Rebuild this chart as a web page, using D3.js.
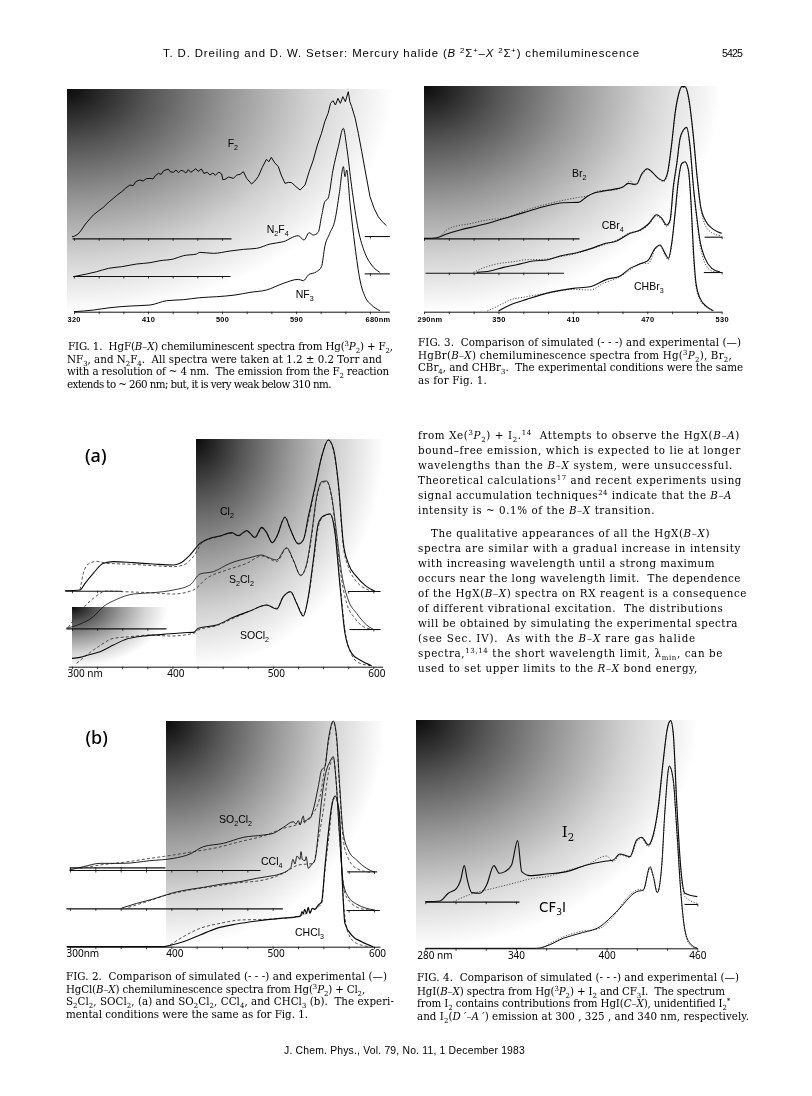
<!DOCTYPE html>
<html><head><meta charset="utf-8">
<script src="https://cdn.jsdelivr.net/npm/d3@7"></script>
<style>html,body{margin:0;background:#fff}svg{display:block;filter:blur(.35px)}text{white-space:pre;fill:#000}</style>
</head><body><svg id="page" width="812" height="1096"></svg>
<script>
// ---- Fig. 1 ----
const fig1Ticks=[320,350,380,410,440,470,500,530,560,590,620,650,680];
const fig1Labels=[320,410,500,590,680];
const F2=[[317.6,225],[321,227],[325,233],[329,245],[333,260],[338,275],[343.5,290],[349,301],[355.7,313],[361,326],[367.8,340],[372,349],[378,360],[383,371],[388,380],[392,378],[395,390],[400,395],[404,392],[408,399],[412.4,400],[416,398],[419,408],[422.6,415],[426,412],[429,423],[434.7,428],[437,420],[440.8,418],[444,425],[447,417],[450,424],[453,422],[456,416],[459,426],[462,418],[465,423],[468,429],[471,421],[475,428],[478,415],[482,418],[485.4,410],[489,416],[492,409],[496,419],[499.6,413],[501,396],[503.6,397],[508,404],[513.8,400],[518,410],[522,412],[526,420],[530,400],[536,383],[540,392],[544,405],[549,433],[554,457],[557,450],[560,463],[564,447],[568.5,435],[572,410],[576.6,385],[581,388],[584.7,387],[590,375],[595,365],[601,380],[606,420],[611,455],[616,500],[621,535],[625,570],[629,595],[632,625],[635,633],[638,620],[641,640],[644,625],[647,645],[650,630],[653.6,660],[655.5,630],[657.7,615],[662,580],[665.8,535],[670,480],[674,425],[680,345],[685,310],[690,285],[695,270],[700,258]];
const N2F4=[[319,105],[335.4,113],[347.6,120],[361.8,130],[378,135],[396,143],[412.4,147],[424.6,153],[440.8,158],[453,168],[469,173],[473,178],[489.5,175],[509.7,182],[526,187],[542,190],[558.4,203],[574.6,210],[592.8,228],[599.7,215],[606,237],[611,230],[617,238],[621,285],[625,330],[629,340],[635,425],[641.5,495],[647.6,550],[651.6,495],[657.7,375],[665.8,245],[674,175],[682,140],[692,118]];
const NF3=[[320,0],[343.5,5],[363.8,12],[388,17],[412.4,20],[432.7,33],[453,36],[473,42],[493.5,45],[515.8,50],[534,58],[554,65],[574.6,85],[592.8,97],[599,93],[605,110],[615,120],[621,135],[625,195],[631,235],[637.4,275],[642.7,355],[647.6,435],[649.6,405],[651.6,425],[655.7,325],[661.8,195],[667.8,95],[674,45],[682,20],[692,3]];
const fig1Rules=[[317.6,511,220],[673,703.5,227],[319,509.7,107],[673,703.5,115],[320,703.5,0]];
// ---- Fig. 3 ----
const fig3Ticks=[290,310,330,350,370,390,410,430,450,470,490,510,530];
const fig3Labels=[290,350,410,470,530];
const Br2=[[290,220],[300.2,222],[308.3,233],[319,245],[332.5,257],[345.9,270],[359.4,285],[372.8,300],[386.2,315],[402.4,327],[414.5,328],[421.2,345],[426.6,355],[433.3,361],[442.7,367],[450.7,375],[454.8,385],[458.8,382],[461.5,383],[465.5,413],[470.1,429],[474.9,415],[479,400],[483,393],[486.2,415],[489.7,505],[492.4,595],[495.1,650],[497.8,675],[500.5,675],[503.2,645],[507.2,525],[509.9,415],[512.6,325],[516.6,275],[523.3,247],[530,235]];
const Br2Sim=[[302.9,225],[308.3,245],[316.3,257],[324.4,262],[340.5,275],[356.7,283],[372.8,305],[391.6,325],[413.1,342],[421.2,347],[431.9,363],[442.7,365],[450.7,375],[456.1,392],[460.2,380],[465.5,409],[470.1,427],[474.9,415],[479,400],[483,390],[486.2,410],[489.7,500],[492.4,590],[495.1,647],[497.8,673],[500.5,673],[503.2,640],[507.2,520],[509.9,415],[512.6,325],[516.6,260],[522,237],[530,227]];
const CBr4=[[332.5,118],[343.2,122],[354,133],[364.7,141],[378.2,152],[388.9,155],[399.7,167],[413.1,177],[425.2,190],[434.6,203],[445.4,212],[456.1,235],[464.2,245],[470.9,263],[477.6,291],[481.7,280],[485.7,260],[488.4,275],[491,375],[493.8,445],[496.4,520],[499.1,545],[501.8,553],[504.5,495],[507.2,375],[509.9,285],[512.6,210],[516.6,160],[522,130],[528.7,119]];
const CBr4Sim=[[329.8,118],[340.5,135],[351.3,145],[362,150],[372.8,156],[386.2,157],[399.7,165],[413.1,175],[425.2,190],[434.6,200],[445.4,215],[456.1,237],[464.2,243],[470.9,260],[477.6,287],[481.7,275],[485.7,255],[488.4,270],[491,365],[493.8,440],[496.4,515],[499.1,542],[501.8,550],[504.5,490],[507.2,370],[509.9,275],[512.6,200],[516.6,145],[522,122],[530,118]];
const CHBr3=[[350,2],[359.4,20],[372.8,37],[391.6,58],[410.4,70],[423.9,75],[437.3,97],[448.1,107],[456.1,130],[465.5,145],[470.9,155],[476.3,190],[480.3,200],[484.3,175],[487,160],[489.7,205],[492.4,295],[495.1,395],[497.8,445],[500.5,450],[503.2,425],[505.3,325],[507.2,185],[509.3,85],[512.6,40],[518,15],[523.3,3]];
const CHBr3Sim=[[341,2],[351.3,20],[359.4,35],[372.8,45],[391.6,57],[410.4,67],[423.9,65],[434.6,85],[448.1,105],[456.1,125],[465.5,145],[470.9,145],[476.3,187],[480.3,197],[484.3,170],[487,155],[489.7,200],[492.4,290],[495.1,390],[497.8,443],[500.5,447],[503.2,420],[505.3,315],[507.2,165],[509.3,75],[512.6,35],[518,13],[523.3,3]];
const fig3Rules=[[290,415,220],[515.8,530,225],[290.8,402.4,117],[515.2,530,119],[290,530,0]];
// ---- Fig. 2a ----
const fig2Ticks=[300,325,350,375,400,425,450,475,500,525,550,575,600];
const fig2Labels=[300,400,500,600];
const Cl2=[[293,228],[308,230],[313,250],[321.2,280],[331.2,310],[341.2,315],[361,312],[381,308],[400.9,305],[407.5,310],[417.5,335],[427.4,370],[437.4,385],[447.4,392],[459,402],[465.6,393],[473.9,408],[482.2,388],[488.9,418],[493.2,405],[499.5,372],[503.8,390],[512.1,448],[517,415],[525.4,368],[530.3,380],[535.3,450],[542,540],[548.6,630],[555.2,680],[560.2,655],[565.2,550],[570.2,370],[575.1,310],[583.4,270],[593.4,240],[601.7,226]];
const Cl2Sim=[[308,230],[311.3,280],[316.3,308],[324.6,316],[334.5,310],[361,307],[381,303],[400.9,300],[410.9,305],[420.8,330],[430.8,375],[444,388],[459,400],[465.6,392],[473.9,406],[482.2,386],[488.9,416],[493.2,404],[499.5,372],[503.8,388],[512.1,450],[517,415],[525.4,370],[530.3,380],[535.3,440],[542,535],[548.6,630],[555.2,680],[560.2,650],[565.2,545],[570.2,360],[575.1,300],[583.4,255],[593.4,232],[601.7,226]];
const S2Cl2=[[294,115],[308,128],[321.2,150],[331.2,180],[344.5,202],[361,218],[381,222],[400.9,230],[417.5,245],[427.4,278],[440.7,285],[457.3,310],[477.2,327],[488.9,335],[493.8,330],[503.8,320],[513.7,357],[520.4,320],[527.7,273],[533.7,310],[538.6,400],[543.6,510],[548.6,555],[553.6,557],[558.6,510],[563.5,400],[568.5,280],[575.1,200],[583.4,160],[593.4,125],[600,112]];
const S2Cl2Sim=[[296.3,118],[308,165],[321.2,205],[334.5,227],[351.1,225],[377.7,222],[400.9,218],[420.8,230],[434.1,265],[454,290],[473.9,310],[488.9,332],[493.8,328],[503.8,315],[513.7,355],[520.4,318],[527.7,275],[533.7,305],[538.6,390],[543.6,505],[548.6,552],[553.6,555],[558.6,505],[563.5,380],[568.5,260],[573.5,190],[581.8,145],[590.1,120],[600,112]];
const SOCl2=[[300,25],[308,28],[316.3,35],[327.9,45],[341.2,65],[354.4,83],[371,92],[390.9,97],[410.9,102],[420.8,103],[425.8,115],[444,125],[460.6,148],[477.2,167],[493.8,185],[503.8,173],[510.4,210],[517.7,225],[523.7,190],[530.3,152],[535.3,210],[540.3,320],[545.3,430],[550.3,452],[556.9,458],[561.9,400],[566.9,240],[571.8,100],[578.5,40],[586.8,20],[598.4,3]];
const SOCl2Sim=[[304.6,10],[314.6,35],[326.2,60],[341.2,85],[357.7,90],[377.7,95],[397.6,92],[420.8,100],[425.8,110],[444,123],[460.6,145],[477.2,167],[493.8,185],[503.8,175],[510.4,210],[517.7,225],[523.7,190],[530.3,157],[535.3,205],[540.3,310],[545.3,420],[550.3,450],[556.9,458],[561.9,405],[566.9,250],[571.8,110],[578.5,35],[586.8,10],[598.4,3]];
const fig2aRules=[[293,349.5,228],[574.5,606.7,227],[294,393.6,115],[575.8,606.7,113],[296.3,609.3,0]];
// ---- Fig. 2b ----
const SO2Cl2=[[299.3,230],[313.2,240],[329.6,250],[352.6,250],[378.9,258],[402,265],[418.4,278],[431.6,300],[451.3,310],[471,328],[490.8,335],[500.6,340],[510.5,358],[520.4,375],[523,368],[525.3,378],[527,365],[530.2,392],[531.5,372],[533.5,380],[537,385],[540,410],[545,480],[548.3,530],[551.6,540],[554.9,620],[559.8,677],[563.1,630],[565.8,500],[569.7,340],[574.6,290],[582.8,260],[592.7,235],[600.9,223]];
const SO2Cl2Sim=[[309.9,235],[329.6,245],[352.6,253],[378.9,265],[402,275],[421.7,285],[444.7,297],[467.7,315],[490.8,332],[510.5,355],[526.9,370],[538.5,395],[546.7,450],[551.6,540],[555.9,630],[559.8,675],[563.1,620],[565.8,490],[569.7,320],[574.6,265],[582.8,235],[596,223]];
const CCl4=[[351,116],[365.8,130],[382.2,143],[402,162],[418.4,172],[431.6,178],[448,187],[467.7,195],[484.2,205],[494,210],[507.2,218],[515.4,230],[518,238],[520,262],[522,248],[524,272],[526.9,262],[528,285],[529.2,262],[531.9,258],[533,270],[535.2,235],[538,245],[541.7,260],[545,340],[548.3,440],[551.6,510],[556.5,555],[559.8,570],[562.5,500],[565.8,340],[569.7,190],[574.6,150],[582.8,128],[592.7,115],[600.9,110]];
const CCl4Sim=[[357.6,118],[375.6,135],[395.4,155],[418.4,170],[444.7,182],[467.7,192],[490.8,200],[510.5,220],[525.3,245],[540,250],[545,320],[550,410],[554.9,520],[559.8,565],[563.1,480],[566.4,310],[571.3,160],[577.9,130],[586.1,115],[596,110]];
const CHCl3=[[296.7,0],[392.1,0],[400.3,5],[411.8,15],[428.3,35],[444.7,55],[464.5,68],[484.2,77],[507.2,85],[525.3,90],[527.5,92],[529,105],[530.2,98],[531.5,112],[533.5,100],[535,118],[536.8,100],[539,115],[541.7,112],[545,125],[548.3,135],[551.6,240],[554.9,340],[558.2,420],[561.5,452],[565.8,400],[568.1,240],[571.3,70],[577.9,35],[587.8,15],[599.3,0]];
const CHCl3Sim=[[398.7,5],[411.8,30],[428.3,55],[448,70],[467.7,80],[490.8,82],[510.5,85],[525.3,92],[540,110],[548.3,130],[551.6,230],[555.9,340],[559.8,445],[563.1,440],[566.4,360],[569.7,140],[574.6,40],[582.8,10],[596,0]];
const fig2bRules=[[299.3,487.5,230],[299.3,393.7,238],[573,602.6,226],[296,509.5,115],[572.3,605.2,110],[296.7,605.9,0]];
// ---- Fig. 4 ----
const fig4Ticks=[280,300,320,340,360,380,400,420,440,460];
const fig4Labels=[280,340,400,460];
const I2=[[280,140],[289.7,142],[295.2,165],[300.7,180],[303.4,205],[305.8,248],[307.8,205],[310.7,167],[316.2,165],[320.6,190],[325.4,248],[329,225],[332.7,230],[337.1,250],[341.1,323],[343.8,230],[349.3,218],[360.3,223],[373.5,230],[386.8,250],[400,262],[404.4,265],[408.8,283],[415.4,275],[419.9,325],[423.2,333],[427.6,310],[429.8,325],[434.2,425],[437.5,565],[440.2,660],[442.4,683],[444.1,645],[446.3,445],[449,245],[451.8,165],[460,155]];
const I2Sim=[[298.5,140],[311.8,165],[325,180],[338.2,195],[351.5,210],[360.3,215],[373.5,233],[386.8,250],[400,277],[404.4,260],[408.8,280],[415.4,273],[419.9,320],[423.2,330],[427.6,305],[429.8,320],[434.2,420],[437.5,560],[440.2,660],[442.4,683],[444.1,640],[446.3,435],[449,235],[451.8,155],[460,135]];
const CF3I=[[280,0],[353.7,0],[360.3,7],[371.3,30],[382.4,45],[395.6,65],[406.6,110],[419.9,170],[424.3,175],[428.7,245],[430.9,215],[433.5,167],[436.4,245],[438.6,415],[441.5,547],[444.1,505],[446.3,365],[449,175],[451.8,55],[455.2,15],[460,0]];
const CF3ISim=[[358.1,3],[369.1,30],[382.4,50],[395.6,60],[404.4,95],[413.2,150],[422.1,177],[424.3,173],[428.7,240],[431.3,210],[433.5,167],[436.4,240],[438.6,410],[441.5,545],[444.1,500],[446.3,360],[449,170],[451.8,50],[455.2,10],[460,0]];
const fig4Rules=[[280,342,140],[451.2,460,133],[280,460,0]];

// ---- drawing ----
const svg=d3.select("#page");
const defs=svg.append("defs");
const grad=defs.append("radialGradient").attr("id","shade").attr("cx",0).attr("cy",0).attr("r",1).attr("fx",0).attr("fy",0);
[[0,"#0a0a0a"],[.25,"#555"],[.5,"#979797"],[.75,"#d2d2d2"],[1,"#fff"]].forEach(s=>grad.append("stop").attr("offset",s[0]).attr("stop-color",s[1]));

const SERIF='"DejaVu Serif"';
function rich(x,y,str,o={}){
  const t=svg.append("text").attr("x",x).attr("y",y)
    .style("font-family",o.font||SERIF).style("font-size",(o.size||10.3)+"px").style("font-weight",o.weight||"normal");
  const re=/\{([_^*])([^}]*)\}/g; let last=0,m,pend=0;
  const add=(s,dy,fs,it)=>{if(!s)return;const ts=t.append("tspan").text(s);
    const d=dy+pend; if(d)ts.attr("dy",d); pend=-dy; if(fs)ts.style("font-size",fs+"px"); if(it)ts.style("font-style","italic");};
  const sz=o.size||10.3;
  while((m=re.exec(str))){add(str.slice(last,m.index),0);
    if(m[1]=="_")add(m[2],sz*.25,sz*.68);else if(m[1]=="^")add(m[2],-sz*.38,sz*.68);else add(m[2],0,0,true);
    last=re.lastIndex;}
  add(str.slice(last),0);
  if(o.end!=null){const w=t.node().getComputedTextLength();const n=t.text().length;
    t.style("letter-spacing",((o.end-x-w)/n)+"px");}
  return t;
}
function panel(rects,nmDom,pxX,yMax,pxY,ticks,labels,rules,series,lab){
  rects.forEach(r=>svg.append("rect").attr("x",r[0]).attr("y",r[1]).attr("width",r[2]).attr("height",r[3]).attr("fill","url(#shade)"));
  const x=d3.scaleLinear().domain(nmDom).range(pxX);
  const y=d3.scaleLinear().domain([0,yMax]).range(pxY);
  rules.forEach(r=>{
    const s=d3.scaleLinear().domain([r[0],r[1]]).range([x(r[0]),x(r[1])]);
    const ax=d3.axisBottom(s).tickValues(ticks.filter(t=>t>=r[0]&&t<=r[1])).tickSize(2.5).tickSizeOuter(0)
      .tickFormat(d=>(r[2]===0&&labels.includes(d))?(d==labels[0]&&lab.firstUnit?d+lab.firstUnit:(d==labels[labels.length-1]&&lab.lastUnit?d+lab.lastUnit:d)):"");
    const g=svg.append("g").attr("transform",`translate(0,${y(r[2])})`).call(ax);
    g.select(".domain").attr("stroke","#111").attr("stroke-width",r[2]===0?1:1.1);
    g.selectAll("line").attr("stroke","#111").attr("stroke-width",.8);
    g.selectAll("text").attr("y",lab.dy).style("font-family",lab.font).style("font-size",lab.size+"px").style("font-weight",lab.weight||"normal")
      .style("letter-spacing",(lab.ls||0)+"px");
    g.selectAll("text").attr("dx",d=>d==labels[0]?lab.firstDx:(lab.dx||0)).attr("text-anchor",d=>{
      if(d==labels[0])return "start"; if(d==labels[labels.length-1]&&lab.lastUnit)return "start"; return "middle";});
    if(lab.lastUnit)g.selectAll("text").filter(d=>d==labels[labels.length-1]).attr("dx",lab.lastDx);
  });
  const lineGen=d3.line().x(d=>x(d[0])).y(d=>y(d[1]));
  series.forEach(s=>{
    lineGen.curve(s.noisy?d3.curveLinear:d3.curveMonotoneX);
    svg.append("path").attr("d",lineGen(s.d)).attr("fill","none")
      .attr("stroke",s.sim?"#333":"#0b0b0b").attr("stroke-width",s.sim?.85:(s.w||1))
      .attr("stroke-dasharray",s.sim==="dot"?"1.2 1.6":(s.sim?"3 2.2":null));
  });
}
const smallSans={font:'"Liberation Sans"',size:7.4,weight:"bold",dy:5.5,ls:.3};
const bigSans={font:'"Noto Sans"',size:10,dy:3.5,dx:3};

panel([[67,89,326,224]],[320,680],[74,370],668,[311.7,89],fig1Ticks,fig1Labels,fig1Rules,
 [{d:F2,noisy:true,w:1},{d:N2F4,w:1},{d:NF3,w:1}],{...smallSans,firstDx:-7,lastUnit:"nm",lastDx:-5});
panel([[424,86,298,226]],[290,530],[424,721.7],677,[311.7,86],fig3Ticks,fig3Labels,fig3Rules,
 [{d:Br2Sim,sim:"dot"},{d:CBr4Sim,sim:"dot"},{d:CHBr3Sim,sim:"dot"},{d:Br2,w:1.1},{d:CBr4,w:1.1},{d:CHBr3,w:1.1}],{...smallSans,firstDx:-7,firstUnit:"nm"});
panel([[72,607,96,60],[196,439,188,228]],[300,600],[72,373.3],682,[666.7,439.3],fig2Ticks,fig2Labels,fig2aRules,
 [{d:Cl2Sim,sim:"dash"},{d:S2Cl2Sim,sim:"dash"},{d:SOCl2Sim,sim:"dash"},{d:Cl2,w:1.1},{d:S2Cl2,w:.8},{d:SOCl2,w:1.1}],{...bigSans,firstDx:-5,firstUnit:" nm"});
panel([[166,721,219,227]],[300,600],[70,374],677,[946.7,721],fig2Ticks,fig2Labels,fig2bRules,
 [{d:SO2Cl2Sim,sim:"dash"},{d:CCl4Sim,sim:"dash"},{d:CHCl3Sim,sim:"dash"},{d:SO2Cl2,w:.9},{d:CCl4,w:.9},{d:CHCl3,w:1.2}],{...bigSans,firstDx:-4,firstUnit:"nm"});
panel([[416,720,282,228]],[280,460],[425.3,697.3],685,[948.3,720],fig4Ticks,fig4Labels,fig4Rules,
 [{d:I2Sim,sim:"dot"},{d:CF3ISim,sim:"dot"},{d:I2,w:1.1},{d:CF3I,w:1}],{...bigSans,dx:0,firstDx:-8.6,firstUnit:" nm"});

// series labels
const sl={font:'"Liberation Sans"',size:10.5};
[[227.7,147,"F{_2}"],[266.7,233,"N{_2}F{_4}"],[295.7,298,"NF{_3}"],
 [572,177,"Br{_2}"],[601.7,229,"CBr{_4}"],[634,290,"CHBr{_3}"],
 [220,515,"Cl{_2}"],[229,583,"S{_2}Cl{_2}"],[240,639,"SOCl{_2}"],
 [219,823,"SO{_2}Cl{_2}"],[261,865,"CCl{_4}"],[295,936,"CHCl{_3}"]].forEach(a=>rich(a[0],a[1],a[2],sl));
rich(561.7,837,"I{_2}",{font:'"DejaVu Serif"',size:15});
rich(539,912,"CF{_3}I",{font:'"DejaVu Sans"',size:13.5});
rich(85,462,"(a)",{font:'"Noto Sans"',size:18,weight:"500"});
rich(85.5,744,"(b)",{font:'"Noto Sans"',size:18,weight:"500"});

// header + footer
rich(163,57,"T. D. Dreiling and D. W. Setser: Mercury halide ({*B} {^2}Σ{^+}–{*X} {^2}Σ{^+}) chemiluminescence",{font:'"Liberation Sans"',size:11.4,end:640});
rich(722,57,"5425",{font:'"Liberation Sans"',size:10.5,end:742});
rich(284,1054,"J. Chem. Phys., Vol. 79, No. 11, 1 December 1983",{font:'"Liberation Sans"',size:10.4,end:525});

// captions + body
const body=[
 [68,350,393,"FIG. 1.  HgF({*B–X}) chemiluminescent spectra from Hg({^3}{*P}{_2}) + F{_2},"],
 [67,363,382,"NF{_3}, and N{_2}F{_4}.  All spectra were taken at 1.2 ± 0.2 Torr and"],
 [67,375,389,"with a resolution of ~ 4 nm.  The emission from the F{_2} reaction"],
 [67,388,331,"extends to ~ 260 nm; but, it is very weak below 310 nm."],
 [418,346,741,"FIG. 3.  Comparison of simulated (- - -) and experimental (—)"],
 [418,359,732,"HgBr({*B–X}) chemiluminescence spectra from Hg({^3}{*P}{_2}), Br{_2},"],
 [418,371,743,"CBr{_4}, and CHBr{_3}.  The experimental conditions were the same"],
 [418,384,487,"as for Fig. 1."],
 [66,980,387,"FIG. 2.  Comparison of simulated (- - -) and experimental (—)"],
 [66,993,365,"HgCl({*B–X}) chemiluminescence spectra from Hg({^3}{*P}{_2}) + Cl{_2},"],
 [66,1005,394,"S{_2}Cl{_2}, SOCl{_2}, (a) and SO{_2}Cl{_2}, CCl{_4}, and CHCl{_3} (b).  The experi-"],
 [66,1018,308,"mental conditions were the same as for Fig. 1."],
 [417,981,739,"FIG. 4.  Comparison of simulated (- - -) and experimental (—)"],
 [417,995,725,"HgI({*B–X}) spectra from Hg({^3}{*P}{_2}) + I{_2} and CF{_3}I.  The spectrum"],
 [417,1007,730,"from I{_2} contains contributions from HgI({*C–X}), unidentified I{_2}{^*}"],
 [417,1020,749,"and I{_2}({*D ′–A ′}) emission at 300 , 325 , and 340 nm, respectively."],
 [418,439,740,"from Xe({^3}{*P}{_2}) + I{_2}.{^14}  Attempts to observe the HgX({*B–A})"],
 [418,454,741,"bound–free emission, which is expected to lie at longer"],
 [418,469,733,"wavelengths than the {*B–X} system, were unsuccessful."],
 [418,484,742,"Theoretical calculations{^17} and recent experiments using"],
 [418,499,732,"signal accumulation techniques{^24} indicate that the {*B–A}"],
 [418,514,655,"intensity is ~ 0.1% of the {*B–X} transition."],
 [431,537,710,"The qualitative appearances of all the HgX({*B–X})"],
 [418,552,741,"spectra are similar with a gradual increase in intensity"],
 [418,567,715,"with increasing wavelength until a strong maximum"],
 [418,582,741,"occurs near the long wavelength limit.  The dependence"],
 [418,597,747,"of the HgX({*B–X}) spectra on RX reagent is a consequence"],
 [418,612,723,"of different vibrational excitation.  The distributions"],
 [418,627,738,"will be obtained by simulating the experimental spectra"],
 [418,642,696,"(see Sec. IV).  As with the {*B–X} rare gas halide"],
 [418,657,723,"spectra,{^13,14} the short wavelength limit, λ{_min}, can be"],
 [418,672,698,"used to set upper limits to the {*R–X} bond energy,"]];
body.forEach(l=>rich(l[0],l[1],l[3],{end:l[2]}));
</script></body></html>
